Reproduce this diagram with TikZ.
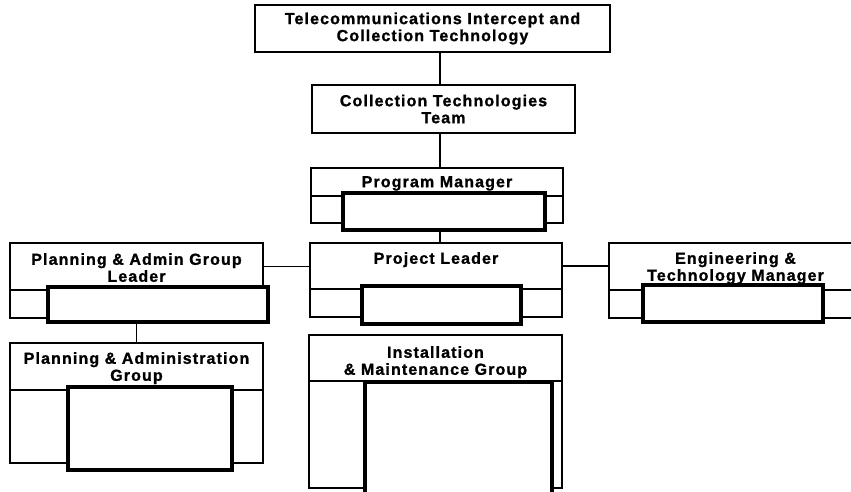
\documentclass[tikz,border=0pt]{standalone}
\usepackage{fontspec}
\setmainfont{Liberation Sans}[LetterSpace=7, BoldFeatures={FakeBold=1.2}]
\usetikzlibrary{positioning}
\begin{document}
\begin{tikzpicture}[x=1pt, y=-1pt,
    unit/.style={draw, line width=1.2pt, inner sep=0pt, outer sep=0pt},
    core/.style={draw, fill=white, line width=4.5pt, inner sep=0pt},
    lbl/.style={font=\fontsize{16}{17}\selectfont\bfseries, align=center, inner sep=0pt},
    link/.style={line width=1.5pt}]
\useasboundingbox (0,0) rectangle (851,492);
\node[unit, lbl, minimum width=355, minimum height=47] (tict) at (432.5,28.5) {Telecommunications Intercept and\\Collection Technology};
\node[unit, lbl, minimum width=263, minimum height=48] (ctteam) at (443.5,109) {Collection Technologies\\Team};
% program manager
\node[unit, minimum width=252, minimum height=28] (pmhead) at (437,182) {};
\node[unit, minimum width=252, minimum height=27, below=0pt of pmhead] (pmbody) {};
\node[core, minimum width=202, minimum height=37] (pmcore) at (444,211.5) {};
% project leader
\node[unit, minimum width=252, minimum height=46] (plhead) at (436,266) {};
\node[unit, minimum width=252, minimum height=28, below=0pt of plhead] (plbody) {};
\node[core, minimum width=159, minimum height=38] (plcore) at (441.5,305) {};
% planning & admin group leader
\node[unit, minimum width=253, minimum height=47] (palhead) at (136.5,266.5) {};
\node[unit, minimum width=253, minimum height=28, below=0pt of palhead] (palbody) {};
\node[core, minimum width=220, minimum height=35] (palcore) at (158,304.5) {};
% planning & administration group
\node[unit, minimum width=253, minimum height=47] (paghead) at (136.5,366.5) {};
\node[unit, minimum width=253, minimum height=73, below=0pt of paghead] (pagbody) {};
\node[core, minimum width=164, minimum height=83] (pagcore) at (150,428.5) {};
% installation & maintenance group
\node[unit, minimum width=253, minimum height=46] (imhead) at (435.5,358) {};
\node[unit, minimum width=253, minimum height=107, below=0pt of imhead] (imbody) {};
\node[core, minimum width=187, minimum height=118] (imcore) at (458.5,441) {};
% engineering & technology manager
\node[unit, minimum width=253, minimum height=47] (enghead) at (735.5,266.5) {};
\node[unit, minimum width=253, minimum height=28, below=0pt of enghead] (engbody) {};
\node[core, minimum width=180, minimum height=37] (engcore) at (733,303.5) {};
% titles
\node[lbl, below=8pt of pmhead.north] (pmtext) {Program Manager};
\node[lbl, below=9pt of plhead.north] (pltext) {Project Leader};
\node[lbl, below=10pt of palhead.north] (paltext) {Planning \& Admin Group\\Leader};
\node[lbl, below=9pt of paghead.north] (pagtext) {Planning \& Administration\\Group};
\node[lbl, below=11pt of imhead.north] (imtext) {Installation\\\& Maintenance Group};
\node[lbl, below=9pt of enghead.north] (engtext) {Engineering \&\\Technology Manager};
% connectors
\coordinate (spine) at (440,0);
\draw[link] (spine |- tict.south) -- (spine |- ctteam.north);
\draw[link] (spine |- ctteam.south) -- (spine |- pmhead.north);
\draw[link] (spine |- pmcore.south) -- (spine |- plhead.north);
\draw[link] (palhead.east) -- (palhead.east -| plhead.west);
\draw[link] (plhead.east) -- (plhead.east -| enghead.west);
\draw[link] (paghead.north) -- (paghead.north |- palcore.south);
\end{tikzpicture}
\end{document}
